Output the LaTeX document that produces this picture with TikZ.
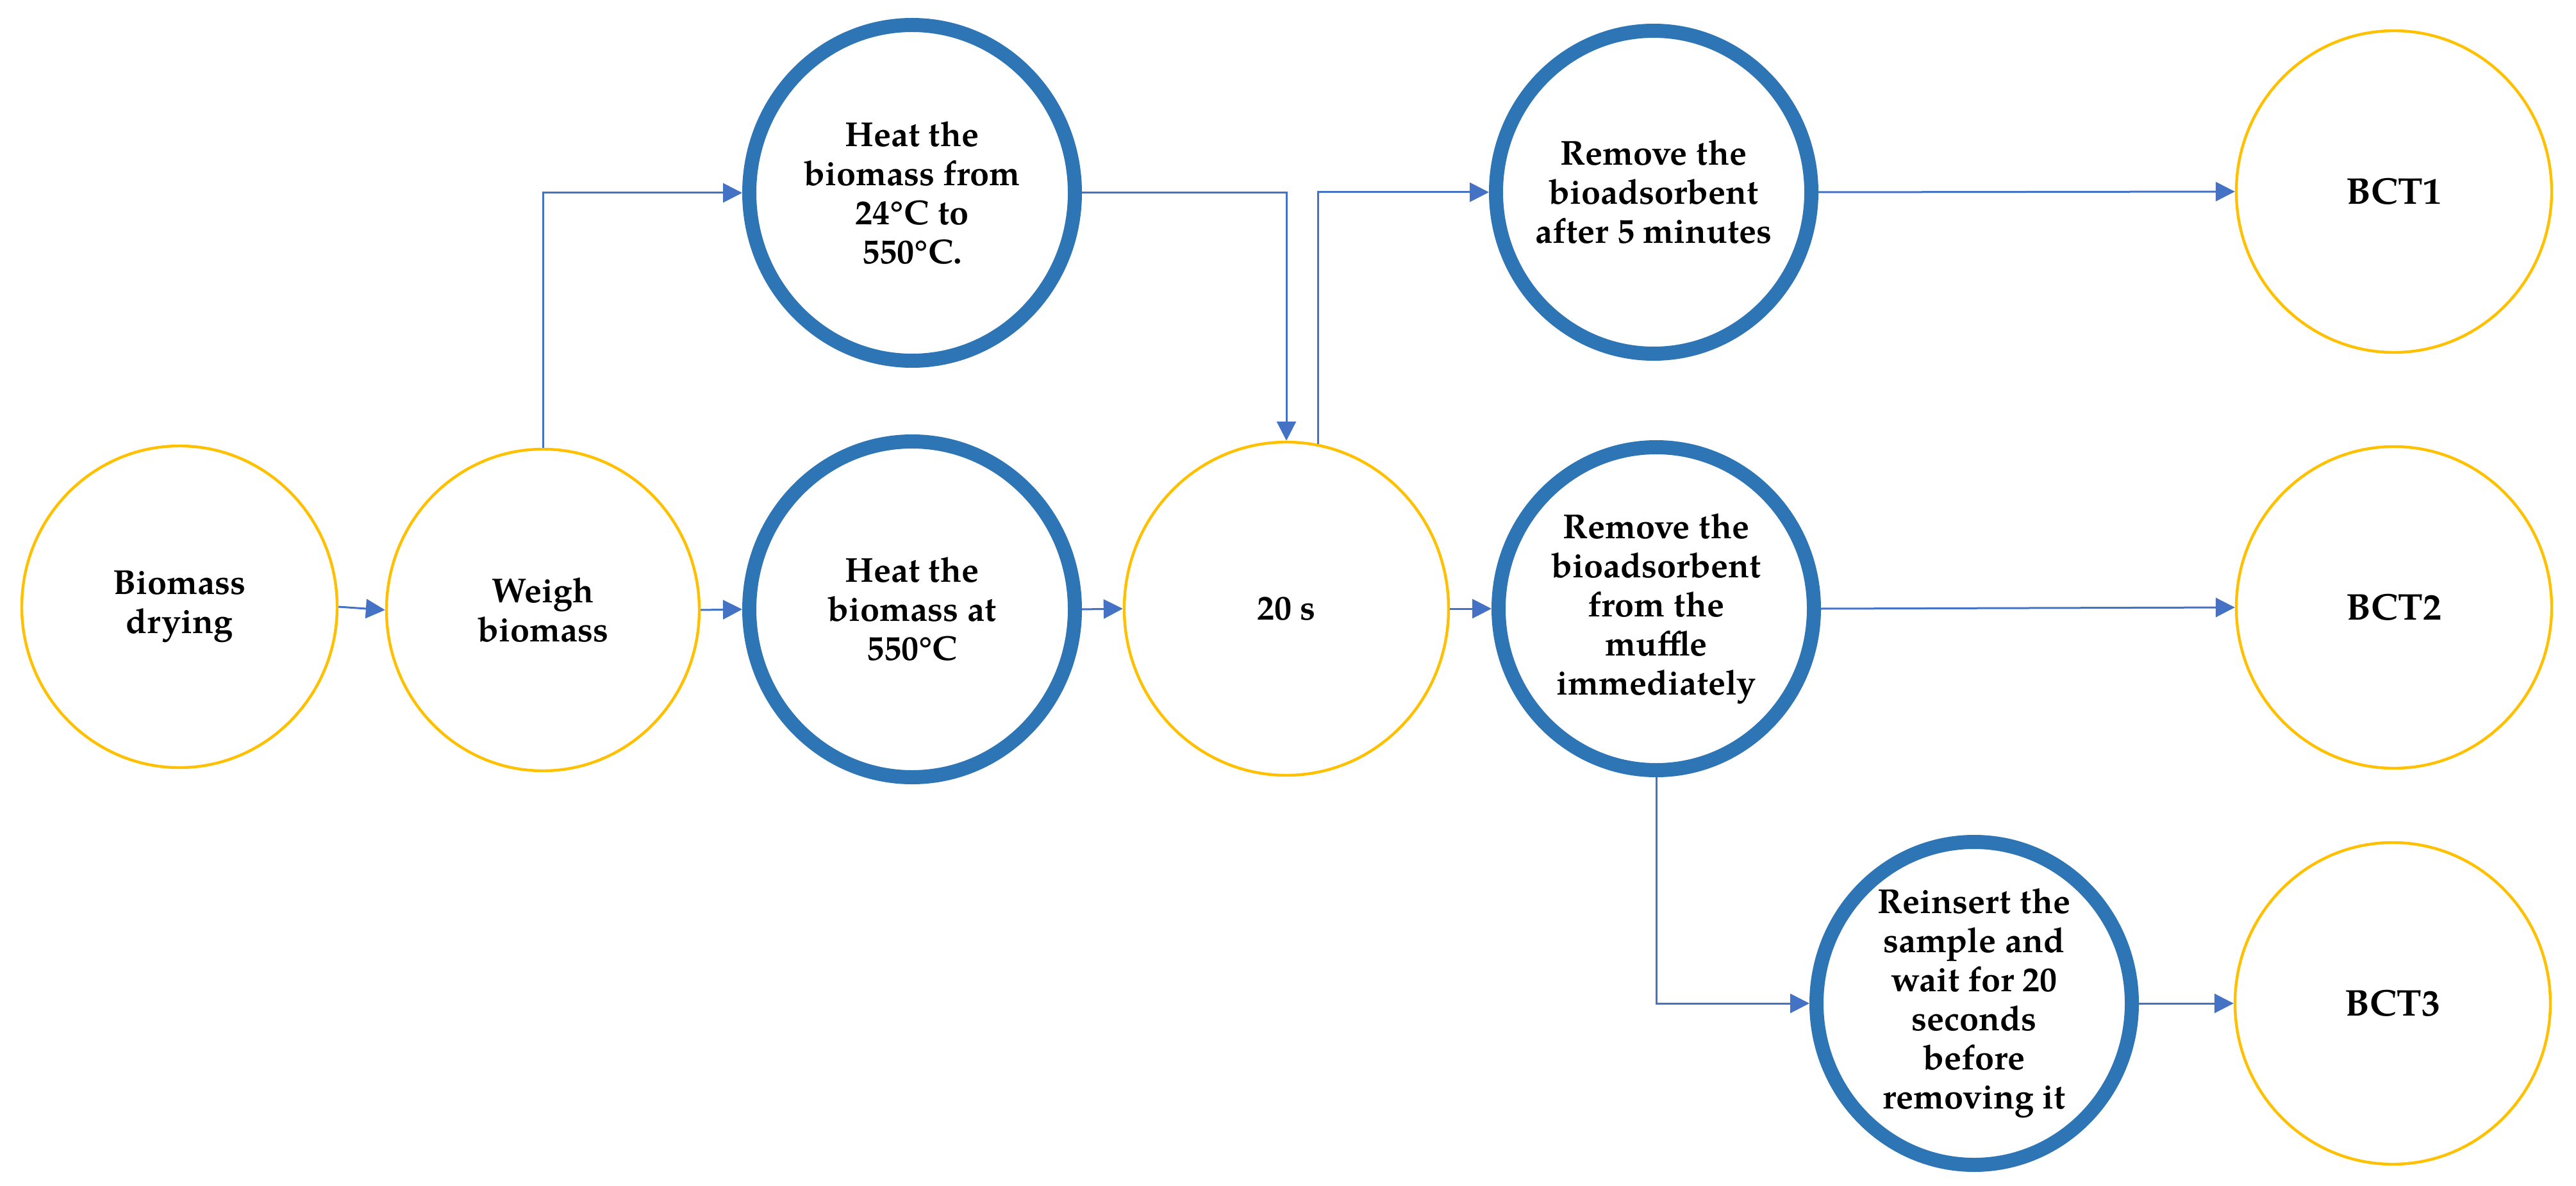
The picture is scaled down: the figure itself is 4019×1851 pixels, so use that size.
\documentclass[tikz,border=0pt]{standalone}
\usepackage{fontspec}
\setmainfont{texgyrepagella}[Extension=.otf, UprightFont=*-regular, BoldFont=*-bold, ItalicFont=*-italic, BoldItalicFont=*-bolditalic]
\usetikzlibrary{shapes.geometric, arrows.meta}
\definecolor{ringblue}{HTML}{2E75B6}
\definecolor{linkblue}{HTML}{4472C4}
\definecolor{gold}{HTML}{FFC000}
\begin{document}
\begin{tikzpicture}[x=0.25pt, y=-0.25pt,
  yc/.style={ellipse, draw=gold, line width=1.1pt, minimum width=123pt, minimum height=125.5pt, inner sep=0pt},
  bc/.style={ellipse, draw=ringblue, line width=5.5pt, minimum width=123pt, minimum height=126pt, inner sep=0pt},
  bigc/.style={bc, minimum width=127pt, minimum height=131pt},
  txt/.style={font=\bfseries\fontsize{13.5}{15.25}\selectfont, align=center, inner sep=0pt},
  lab/.style={label={[txt]center:{#1}}},
  blab/.style={label={[txt, font=\bfseries\fontsize{14.5}{17}\selectfont]center:{#1}}},
  link/.style={draw=linkblue, line width=0.75pt, -{Triangle[length=7.5pt, width=7.5pt]}}
]
\useasboundingbox (0,0) rectangle (4019,1851);

\node[yc, lab={Biomass\\drying}] (dry) at (280,947) {};
\node[yc, minimum width=122pt, lab={Weigh\\biomass}] (weigh) at (847,952) {};
\node[bigc, lab={Heat the\\biomass from\\24°C to\\550°C.}] (hfrom) at (1423,301) {};
\node[bigc, lab={Heat the\\biomass at\\550°C}] (h550) at (1423,951) {};
\node[yc, minimum width=126.5pt, minimum height=130pt, lab={20 s}] (t20) at (2007,950) {};
\node[bc, lab={Remove the\\bioadsorbent\\after 5 minutes}] (rm5) at (2580,300) {};
\node[bc, lab={Remove the\\bioadsorbent\\from the\\muffle\\immediately}] (rmi) at (2584,950) {};
\node[bc, lab={Reinsert the\\sample and\\wait for 20\\seconds\\before\\removing it}] (rein) at (3080,1566) {};
\node[yc, blab={BCT1}] (b1) at (3735,299) {};
\node[yc, blab={BCT2}] (b2) at (3735,948) {};
\node[yc, blab={BCT3}] (b3) at (3733,1566) {};

\draw[link] (dry.east) -- (weigh.west);
\draw[link] (weigh.east) -- (h550.west);
\draw[link] (weigh.north) |- (hfrom.west);
\draw[link] (hfrom.east) -| (t20.north);
\draw[link] (h550.east) -- (t20.west);
\draw[link] (t20.79) |- (rm5.west);
\draw[link] (t20.east) -- (rmi.west);
\draw[link] (rm5.east) -- (b1.west);
\draw[link] (rmi.east) -- (b2.west);
\draw[link] (rmi.south) |- (rein.west);
\draw[link] (rein.east) -- (b3.west);
\end{tikzpicture}
\end{document}
